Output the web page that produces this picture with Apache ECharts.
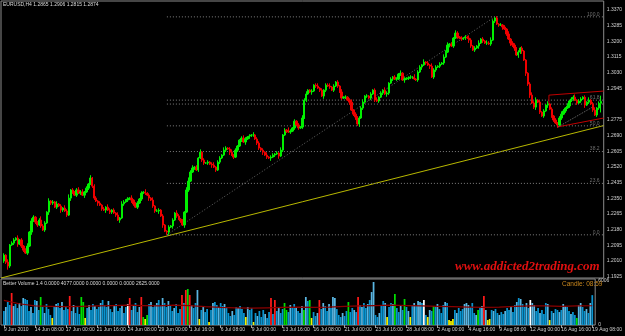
<!DOCTYPE html>
<html><head><meta charset="utf-8">
<script src="https://cdn.jsdelivr.net/npm/echarts@6/dist/echarts.min.js"></script>
<style>html,body{margin:0;padding:0;background:#000;}#c{width:625px;height:336px;}</style>
</head><body><div id="c"></div>
<script>
// ---------- DATA ----------
const symbolInfo = "EURUSD,H4";
const lastBarOHLC = [1.2865, 1.2906, 1.2815, 1.2874];   // O H L C of the current bar
const firstOpen = 1.2010;
const closes = [
1.2042,1.2004,1.1983,1.2097,1.2107,1.2124,1.2134,1.2102,1.2124,1.2091,
1.2069,1.2053,1.2091,1.2167,1.2227,1.2248,1.2221,1.2205,1.2232,1.2200,
1.2178,1.2216,1.2275,1.2335,1.2324,1.2330,1.2302,1.2319,1.2308,1.2286,
1.2297,1.2281,1.2259,1.2351,1.2395,1.2384,1.2367,1.2395,1.2378,1.2384,
1.2367,1.2384,1.2405,1.2427,1.2460,1.2416,1.2351,1.2335,1.2324,1.2313,
1.2292,1.2286,1.2302,1.2286,1.2275,1.2286,1.2270,1.2259,1.2232,1.2243,
1.2319,1.2330,1.2340,1.2346,1.2351,1.2340,1.2319,1.2302,1.2324,1.2346,
1.2378,1.2384,1.2378,1.2367,1.2351,1.2340,1.2308,1.2281,1.2281,1.2286,
1.2254,1.2205,1.2172,1.2167,1.2194,1.2200,1.2232,1.2270,1.2254,1.2237,
1.2227,1.2205,1.2275,1.2395,1.2443,1.2492,1.2514,1.2519,1.2503,1.2568,
1.2600,1.2557,1.2541,1.2541,1.2546,1.2535,1.2530,1.2519,1.2503,1.2546,
1.2568,1.2584,1.2611,1.2622,1.2617,1.2600,1.2584,1.2573,1.2611,1.2633,
1.2665,1.2676,1.2655,1.2671,1.2682,1.2687,1.2693,1.2693,1.2671,1.2649,
1.2622,1.2611,1.2600,1.2584,1.2573,1.2568,1.2573,1.2584,1.2590,1.2595,
1.2579,1.2611,1.2693,1.2720,1.2714,1.2709,1.2714,1.2731,1.2768,1.2747,
1.2731,1.2736,1.2785,1.2882,1.2915,1.2936,1.2926,1.2931,1.2963,1.2958,
1.2947,1.2936,1.2904,1.2936,1.2963,1.2958,1.2953,1.2936,1.2958,1.2980,
1.2958,1.2926,1.2893,1.2898,1.2898,1.2882,1.2871,1.2828,1.2806,1.2790,
1.2752,1.2785,1.2839,1.2871,1.2904,1.2904,1.2893,1.2915,1.2936,1.2882,
1.2877,1.2898,1.2920,1.2936,1.2915,1.2920,1.2974,1.2996,1.3007,1.2996,
1.2996,1.3023,1.3028,1.2991,1.2996,1.3001,1.3001,1.3007,1.3007,1.2996,
1.2991,1.3034,1.3061,1.3072,1.3088,1.3083,1.3072,1.3066,1.3007,1.3045,
1.3061,1.3066,1.3077,1.3083,1.3115,1.3142,1.3180,1.3186,1.3175,1.3218,
1.3245,1.3224,1.3218,1.3213,1.3218,1.3224,1.3218,1.3207,1.3175,1.3153,
1.3164,1.3175,1.3191,1.3213,1.3202,1.3191,1.3191,1.3186,1.3207,1.3310,
1.3327,1.3294,1.3289,1.3289,1.3278,1.3267,1.3240,1.3213,1.3191,1.3180,
1.3164,1.3126,1.3142,1.3164,1.3148,1.3099,1.3028,1.2969,1.2909,1.2866,
1.2844,1.2882,1.2871,1.2817,1.2796,1.2823,1.2855,1.2861,1.2833,1.2796,
1.2774,1.2758,1.2747,1.2785,1.2806,1.2823,1.2839,1.2850,1.2877,1.2888,
1.2898,1.2882,1.2866,1.2877,1.2888,1.2898,1.2855,1.2871,1.2882,1.2861,
1.2828,1.2801,1.2839,1.2865,1.2874];
// wick lengths, in units of 5 pips, one digit per bar
const upperWick5Pips = ["2131221312","1231321124","2213121312","1324121232","3121312212","1213212131","3212131221","2131213122","1211212132","1213423121","3121212312","2132123121","1232121312","2121312212","1312142121","2132311212","3121223121","2131212312","1223121212","3121321212","2131212213","1221312132","2121323121","3212121321","2131213232","1212121312","2121211123","2312121312","1212321312","2312212131","23124"].join('');
const lowerWick5Pips = ["2242121312","2121312212","1213221213","2121321212","1312122131","2131221213","1212132121","2121312213","1313313121","2131211212","1221213121","2112131212","1213121212","2131213121","3121212121","2121211312","1213212121","2121213123","2312121212","1212132121","2121312121","1213121312","2121211212","1212121321","2131212121","2121312132","3132313231","2312121312","2131212121","2121213121","21224"].join('');
const volumes = [
1910,2460,3140,2730,4370,2590,2870,2320,3000,2590,
3690,3550,3410,1910,2460,1640,3410,3280,2050,3820,
2460,1640,2870,2180,1370,960,2460,2870,3000,2320,
3140,2050,2590,2180,3960,1910,2730,1640,2460,1500,
3820,3140,960,2320,2730,2050,2870,2590,2180,2460,
3000,3410,2730,2460,3280,2180,1770,2590,2870,1910,
2320,2730,1640,2460,2870,3690,2050,2590,3000,1770,
2460,3820,1090,820,1370,2870,3140,2460,2730,3000,
3410,2590,3690,3000,2460,3280,2730,1910,2320,2870,
1640,2180,4100,3000,4780,4910,4100,2730,2320,3000,
4780,820,2050,2460,1770,2180,410,2050,3000,3140,
2730,2460,3000,2590,2870,2320,1640,1230,1910,1370,
2460,2320,2590,2180,1640,1090,2460,2050,2320,410,
1640,1230,1910,1090,2050,1500,960,1770,3690,1500,
3410,1910,2460,1640,2180,3000,2050,1770,2730,2460,
2870,2320,1910,1640,2590,2050,3820,3280,3410,960,
1770,1230,1640,3410,2180,3000,2590,1910,2870,2320,
3820,3690,2180,1370,1090,1640,1230,1910,3140,1770,
2320,2050,1770,3820,2730,2460,3000,2320,2870,3410,
4500,5870,1370,1090,1640,2730,3280,3000,1090,2460,
3000,2870,4230,2320,1770,2730,2050,3550,2460,1910,
1090,2730,3000,2590,3280,3140,3000,3410,1370,1090,
2050,1910,2590,2460,2870,2180,1640,2730,3140,3000,
680,550,820,2050,1640,2320,1910,2180,2870,3000,
2730,2460,3000,1640,1370,2050,2460,2590,3960,2050,
680,820,2050,1910,2180,1640,1370,1770,1500,1910,
2320,2050,2590,1770,2730,3140,3690,3550,2870,2460,
3000,2320,3410,3000,2730,1910,2320,1640,2050,1500,
3000,2870,680,1910,1640,2180,2050,1770,2050,2870,
2590,2460,1910,1500,1770,1370,960,2730,3000,2460,
1910,2180,1640,3000,4077];
// b=blue d=dotted r=climax red g=churn green y=low yellow w=white
const volumeClass = ["bdbbrdbbdb","dbbbdbbdbg","bdbbbybdbb","dbbbrbdbbb","ggybdbbdbb","dbbbdbbdbb","bdbbwrbdbb","drgygbdbbd","bbdbbdbbdb","bbrbrgrdbb","dybdbbybdb","bdbbdbbbdb","bdbbbydbby","bdbbbdbbrb","rbdbbggbdb","bdbbdgdbgy","bbdrbdbbdb","ddbbbdbbgb","bdbrbdbbdb","ddbbdbbdyb","bdgbbdbgbd","ybdbddbwby","dbgbdbbbdb","yyybdbbbdd","dbbbdgbdrd","yybdbbdbbd","bbdbbdbdbb","dbwddbbdbb","bdybdbbdbd","dbbdbbgddb","bdbdb"].join('');
const volumeMA = [3350,2900,2600,2550,2500,2550,2600,2650,2700,2650,2600,2700,2650,2500,2400,2350,2300,2350,2400,2450,2400,2450,2550,2600,2650,2700,2650,2600,2550,2500,2450,2400,2450,2550,2600,2600,2550,2600,2625];
const volumeMAStep = 8;
const volumeHeaderValues = [0, 4077, 0, 0, 0, 2625];
const volumeAxisLabels = [0, 6006];
const timeLabels = ["9 Jun 2010","14 Jun 08:00","17 Jun 00:00","21 Jun 16:00","24 Jun 08:00","29 Jun 00:00","1 Jul 16:00","6 Jul 08:00","9 Jul 00:00","13 Jul 16:00","16 Jul 08:00","21 Jul 00:00","23 Jul 16:00","28 Jul 08:00","2 Aug 00:00","4 Aug 16:00","9 Aug 08:00","12 Aug 00:00","16 Aug 16:00","19 Aug 08:00"];
const timeLabelStep = 16;
const priceTicks = [1.1925,1.2010,1.2095,1.2180,1.2265,1.2350,1.2435,1.2520,1.2605,1.2690,1.2775,1.2945,1.3030,1.3115,1.3200,1.3285,1.3370];
// annotations: [bar index, price]
const trendLine = [[-1.5, 1.1918], [305.5, 1.2744]];
const fibLowPoint = [83, 1.2152];
const fibHighPoint = [250, 1.3333];
const fibLevels = [0, 23.6, 38.2, 50, 60, 61.8, 100];
const fibLevelLabels = ["0.0", "23.6", "38.2", "50.0", "", "61.8", "100.0"];
const channelTop = [[277.6, 1.2909], [305.5, 1.2931]];
const channelLeft = [[277.6, 1.2909], [277.6, 1.2855]];
const channelBottom = [[281.7, 1.2736], [305.5, 1.2785]];
const channelDiagonal = [[282.2, 1.2736], [299.8, 1.2844]];

// ---------- BUILD ----------
const N = closes.length;
const CATS = N + 2;           // one empty slot left, one right
const cats = Array.from({length: CATS}, (_, j) => String(j));
const upW = upperWick5Pips.split('').map(Number);
const dnW = lowerWick5Pips.split('').map(Number);
const candleData = ['-'];
for (let i = 0; i < N; i++) {
  let o = i === 0 ? firstOpen : closes[i - 1];
  let c = closes[i];
  let h = Math.max(o, c) + upW[i] * 0.0005;
  let l = Math.min(o, c) - dnW[i] * 0.0005;
  if (i === N - 1) { o = lastBarOHLC[0]; h = lastBarOHLC[1]; l = lastBarOHLC[2]; c = lastBarOHLC[3]; }
  candleData.push([o, c, l, h]);
}
candleData.push('-');

const volColors = {b:'#0a94d0', d:'#5ab6e2', r:'#ff1a1a', g:'#00e000', y:'#f2f200', w:'#ffffff'};
const volData = ['-'].concat(volumes.map((v, i) => ({value: v, itemStyle: {color: volColors[volumeClass[i]]}}))).concat(['-']);
const maData = new Array(CATS).fill('-');
volumeMA.forEach((v, k) => { maData[1 + k * volumeMAStep] = v; });

const FONT = 'Liberation Sans';
const yMin = 1.1918, yMax = 1.3419;
const fibPrice = lv => fibLowPoint[1] + (fibHighPoint[1] - fibLowPoint[1]) * lv / 100;

const lineSeries = (pts, color, type, width) => ({
  type: 'line', xAxisIndex: 1, yAxisIndex: 0, data: pts, symbol: 'none', silent: true,
  lineStyle: {color: color, width: width || 1, type: type || 'solid'}, z: 3
});

const series = [
  {
    type: 'candlestick', xAxisIndex: 0, yAxisIndex: 0, data: candleData, barWidth: '92%',
    itemStyle: {color: '#00f000', color0: '#f00000', borderColor: '#00f000', borderColor0: '#f00000', borderWidth: 1},
    z: 4,
    markLine: {
      symbol: 'none', silent: true, animation: false,
      data: [{yAxis: lastBarOHLC[3]}],
      lineStyle: {opacity: 0},
      label: {position: 'end', distance: 2, formatter: lastBarOHLC[3].toFixed(4), color: '#000',
        backgroundColor: '#e8e8e8', fontSize: 5, fontFamily: FONT, padding: [1, 2]}
    }
  },
  lineSeries(trendLine, '#b8b800', 'solid', 1),
  lineSeries([fibLowPoint, fibHighPoint], '#6a6a6a', [1, 2], 1)
];
fibLevels.forEach(lv => {
  series.push(lineSeries([[fibLowPoint[0], fibPrice(lv)], [305.5, fibPrice(lv)]], '#808080', [1, 2], 1));
});
series.push({
  type: 'scatter', xAxisIndex: 1, yAxisIndex: 0, symbolSize: 0, silent: true, z: 5,
  data: fibLevels.map((lv, k) => ({value: [303.4, fibPrice(lv)], label: {formatter: fibLevelLabels[k]}})),
  label: {show: true, position: 'left', distance: 0, offset: [0, -2.5], color: '#8a8a8a', fontSize: 5, fontFamily: FONT}
});
series.push(lineSeries(channelTop, '#c00000', 'solid', 1));
series.push(lineSeries(channelLeft, '#c00000', 'solid', 1));
series.push(lineSeries(channelBottom, '#c00000', 'solid', 1));
series.push(lineSeries(channelDiagonal, '#707070', [1, 1], 1));
series.push({type: 'bar', xAxisIndex: 2, yAxisIndex: 1, data: volData, barWidth: '90%', silent: true});
series.push({type: 'line', xAxisIndex: 2, yAxisIndex: 1, data: maData, connectNulls: true, symbol: 'none',
  silent: true, lineStyle: {color: '#8b0000', width: 1.2}, z: 5});

const labelIdx = idx => idx >= 1 && (idx - 1) % timeLabelStep === 0;

const option = {
  animation: false,
  backgroundColor: '#000',
  grid: [
    {left: 1, right: 19, top: 1, height: 277, show: true, borderColor: '#8c8c8c', borderWidth: 1, backgroundColor: '#000'},
    {left: 1, right: 19, top: 279, height: 46, show: true, borderColor: '#8c8c8c', borderWidth: 1, backgroundColor: '#000'}
  ],
  xAxis: [
    {gridIndex: 0, type: 'category', data: cats, boundaryGap: true, show: false, axisLine: {onZero: false}},
    {gridIndex: 0, type: 'value', min: -1.5, max: 305.5, show: false, axisLine: {onZero: false}},
    {gridIndex: 1, type: 'category', data: cats, boundaryGap: true,
      axisLine: {show: false, onZero: false},
      axisTick: {show: true, alignWithLabel: true, interval: labelIdx, length: 3, lineStyle: {color: '#a0a0a0'}},
      axisLabel: {show: true, interval: labelIdx, align: 'left', margin: 2, color: '#d0d0d0', fontSize: 5, fontFamily: FONT,
        formatter: (v, idx) => timeLabels[(idx - 1) / timeLabelStep] || ''}}
  ],
  yAxis: [
    {gridIndex: 0, type: 'value', position: 'right', min: yMin, max: yMax,
      splitLine: {show: false, lineStyle: {color: '#ffff00'}},
      splitArea: {show: false}, minorTick: {show: false}, minorSplitLine: {show: false},
      axisLine: {show: false, onZero: false}, axisTick: {show: false, lineStyle: {color: '#00ffff'}},
      axisLabel: {customValues: priceTicks, formatter: v => v.toFixed(4), color: '#d0d0d0', fontSize: 5, fontFamily: FONT, margin: 3}},
    {gridIndex: 1, type: 'value', position: 'right', min: 0, max: 6280, splitLine: {show: false},
      axisLine: {show: false, onZero: false}, axisTick: {show: false},
      axisLabel: {customValues: volumeAxisLabels, formatter: v => String(v), color: '#d0d0d0', fontSize: 5, fontFamily: FONT, margin: 3}}
  ],
  graphic: [
    {type: 'text', left: 3, top: 2, z: 100, style: {text: symbolInfo + ' ' + lastBarOHLC.map(v => v.toFixed(4)).join(' '),
      fill: '#dcdcdc', fontSize: 5, fontFamily: FONT}},
    {type: 'text', left: 3, top: 281, z: 100, style: {text: 'Better Volume 1.4 ' + volumeHeaderValues.map(v => v.toFixed(4)).join(' '),
      fill: '#dcdcdc', fontSize: 5, fontFamily: FONT}},
    {type: 'text', left: 562, top: 281, z: 100, style: {text: 'Candle: 08:59', fill: '#c8861c', fontSize: 6.5, fontFamily: FONT}},
    {type: 'text', left: 455, top: 260, z: 100, style: {text: 'www.addicted2trading.com', fill: '#e01010',
      fontSize: 13, fontStyle: 'italic', fontWeight: 'bold', fontFamily: 'Liberation Serif'}}
  ],
  series: series
};
const chart = echarts.init(document.getElementById('c'));
chart.setOption(option);
</script>
</body></html>
